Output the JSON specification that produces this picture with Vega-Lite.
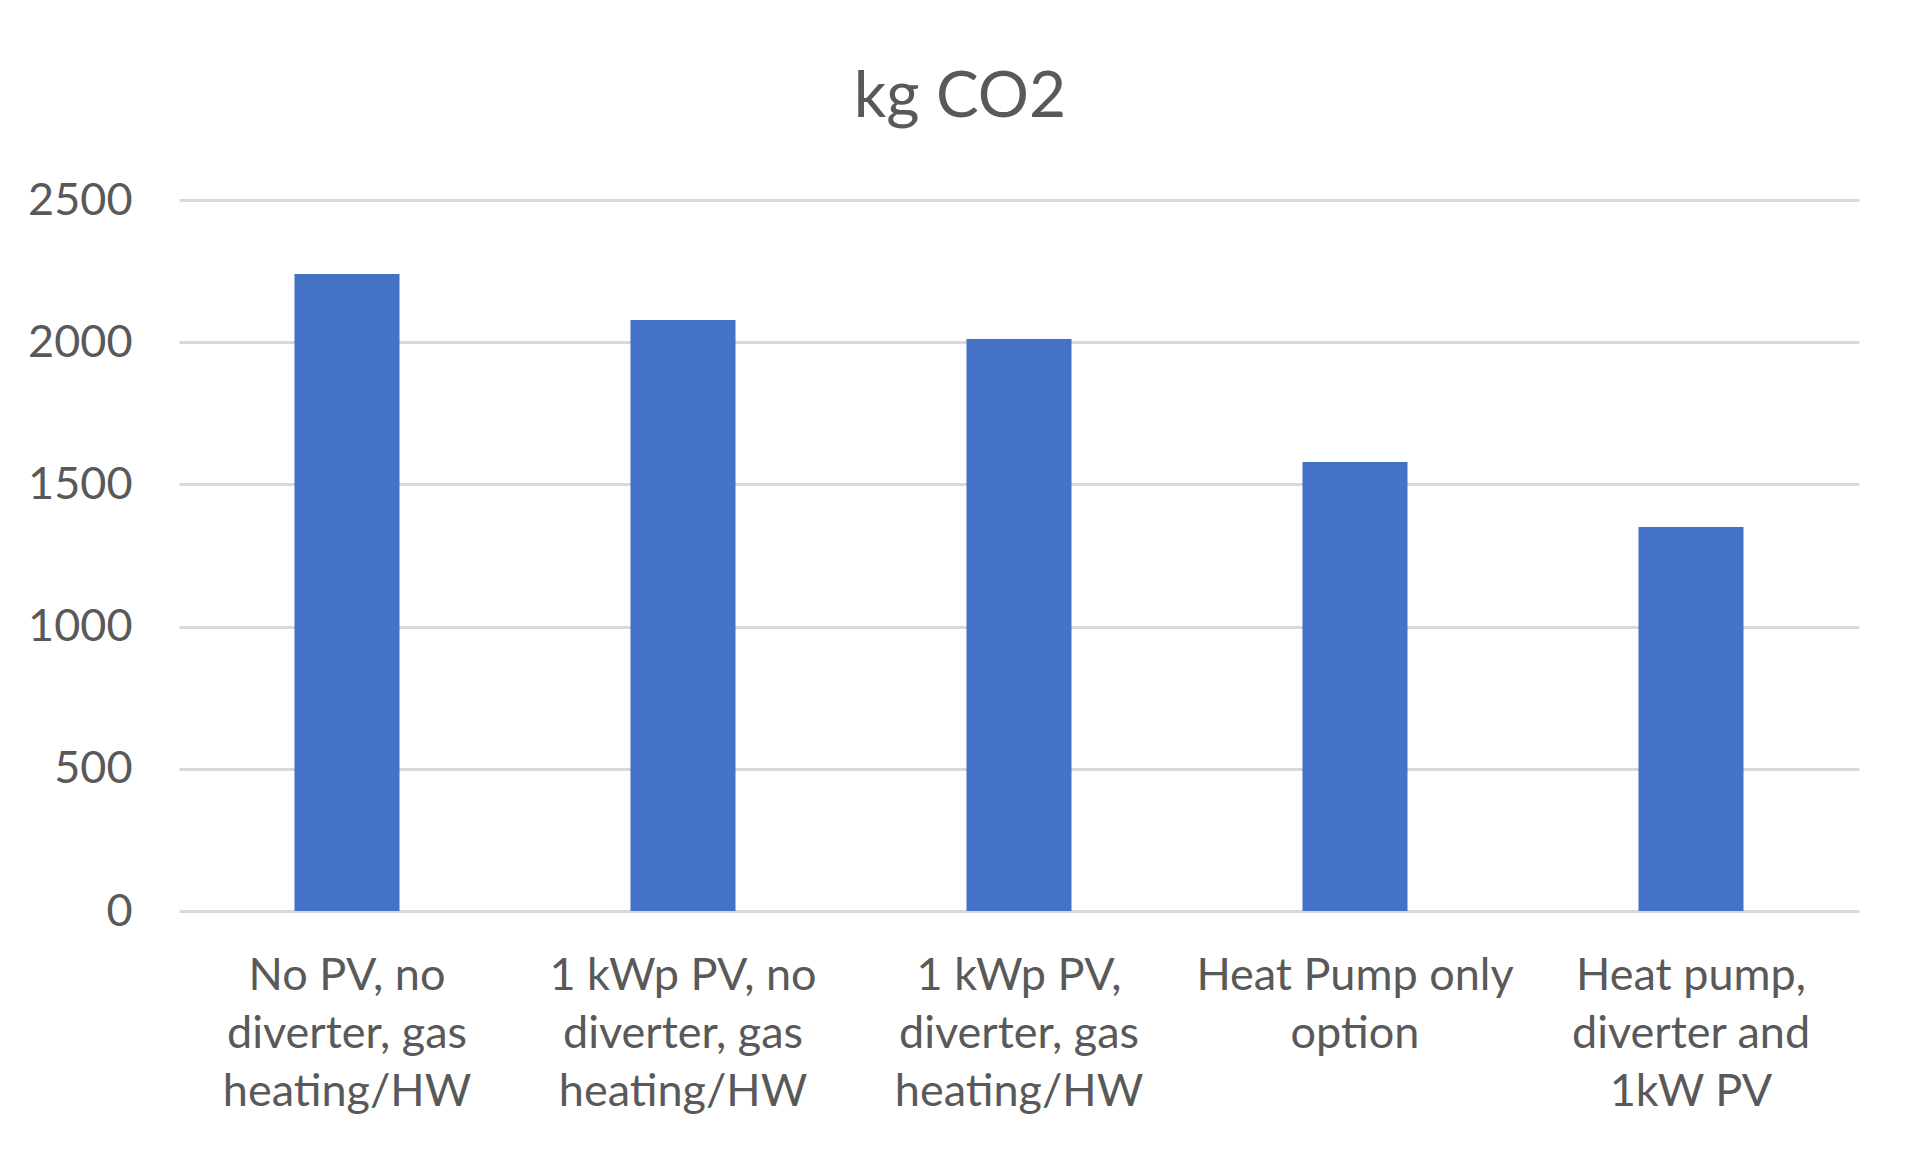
{
  "$schema": "https://vega.github.io/schema/vega-lite/v6.json",
  "width": 1680,
  "height": 711,
  "autosize": {"type": "none"},
  "padding": {"left": 179, "top": 200, "right": 61, "bottom": 243},
  "background": "white",
  "title": {
    "text": "kg CO2",
    "fontSize": 64,
    "font": "Lato",
    "fontWeight": "normal",
    "color": "#595959",
    "anchor": "middle",
    "baseline": "alphabetic",
    "offset": -3,
    "dx": -59
  },
  "data": {
    "values": [
      {"label": "No PV, no|diverter, gas|heating/HW", "co2": 2240},
      {"label": "1 kWp PV, no|diverter, gas|heating/HW", "co2": 2078},
      {"label": "1 kWp PV,|diverter, gas|heating/HW", "co2": 2011},
      {"label": "Heat Pump only|option", "co2": 1579},
      {"label": "Heat pump,|diverter and|1kW PV", "co2": 1350}
    ]
  },
  "mark": {"type": "bar", "color": "#4472c4"},
  "encoding": {
    "x": {
      "field": "label",
      "type": "nominal",
      "sort": null,
      "title": null,
      "scale": {"paddingInner": 0.6875, "paddingOuter": 0.34375},
      "axis": {
        "labelExpr": "split(datum.label, '|')",
        "labelAngle": 0,
        "labelLimit": 0,
        "labelFont": "Lato",
        "labelFontSize": 45,
        "labelLineHeight": 58,
        "labelColor": "#595959",
        "labelPadding": 42,
        "labelBaseline": "top",
        "domain": false,
        "ticks": false,
        "grid": false
      }
    },
    "y": {
      "field": "co2",
      "type": "quantitative",
      "title": null,
      "scale": {"domain": [0, 2500], "nice": false},
      "axis": {
        "values": [0, 500, 1000, 1500, 2000, 2500],
        "format": "d",
        "labelFont": "Lato",
        "labelFontSize": 45,
        "labelColor": "#595959",
        "labelPadding": 47,
        "domain": false,
        "ticks": false,
        "grid": true,
        "gridColor": "#d9d9d9",
        "gridWidth": 3
      }
    }
  },
  "config": {"view": {"stroke": null}}
}
